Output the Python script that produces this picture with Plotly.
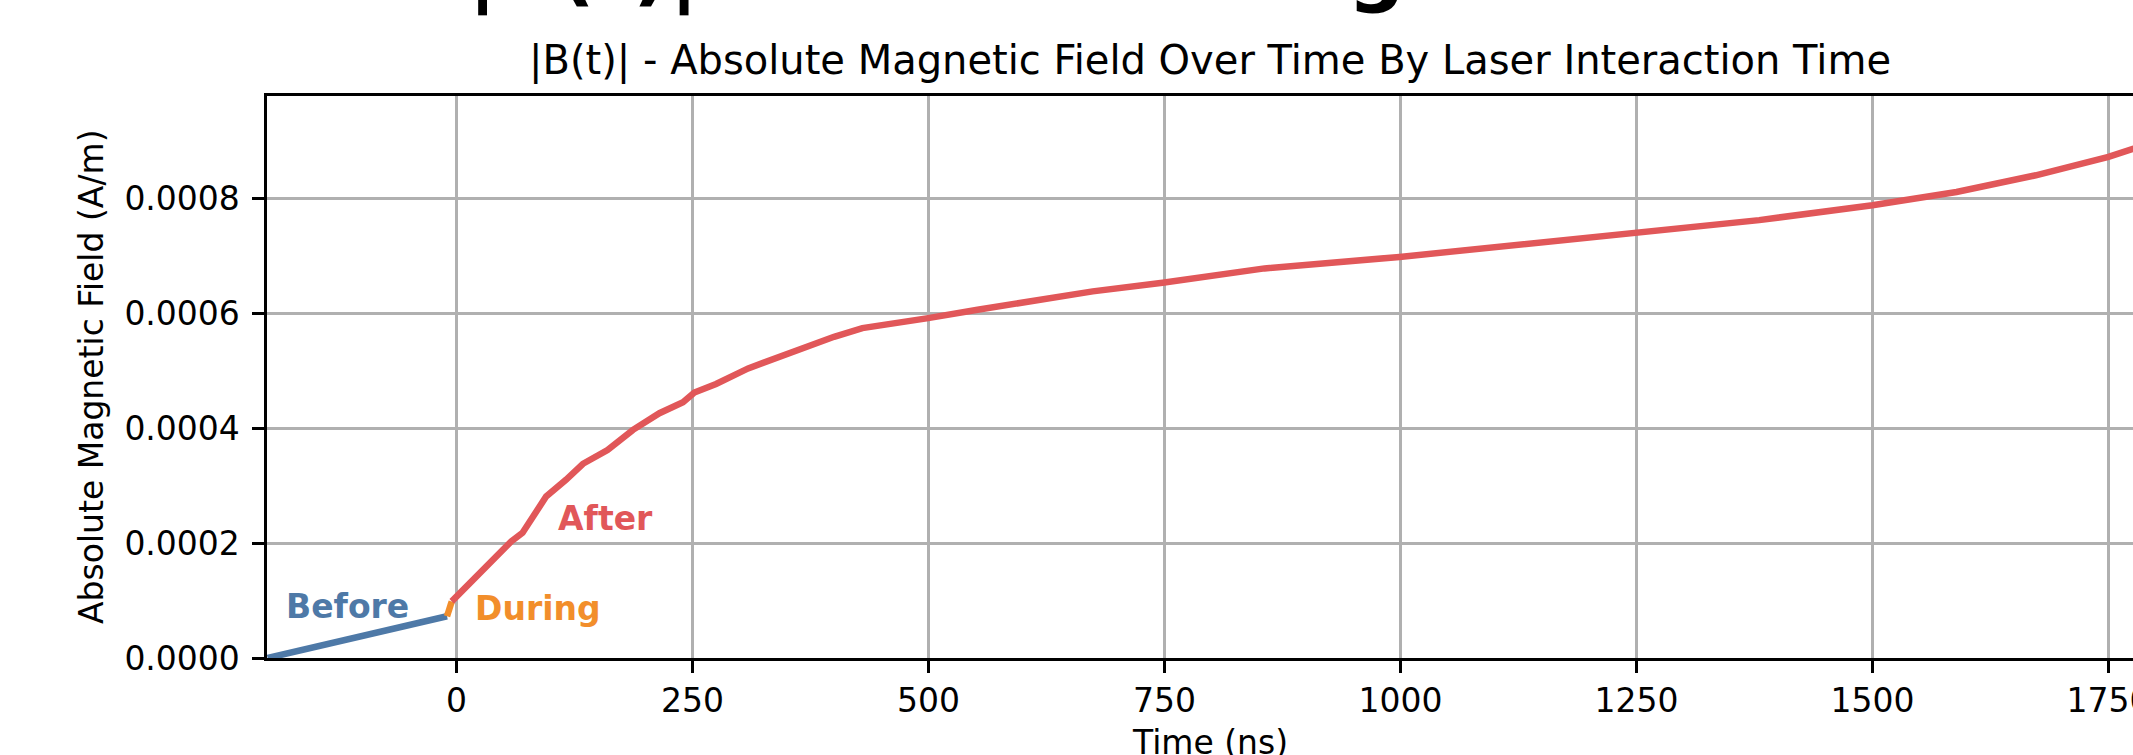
import plotly.graph_objects as go

# ---- data ----
before_t = [-200, -150, -100, -50, -10]
before_b = [0.0, 0.0000195, 0.0000385, 0.0000565, 0.0000727]

during_t = [-10, -7, -5]
during_b = [0.0000727, 0.000085, 0.0000985]

after_t = [-5, 11, 28, 46, 58, 70, 81, 95, 116, 134, 160, 187, 215, 240, 252, 275,
           309, 370, 400, 430, 461, 498, 552, 613, 674, 748, 856, 999, 1128, 1249,
           1317, 1380, 1500, 1589, 1673, 1750, 1776, 1797]
after_b = [0.0000985, 0.000125, 0.000151, 0.000183, 0.000203, 0.000218, 0.000246,
           0.000281, 0.000310, 0.000338, 0.000362, 0.000397, 0.000426, 0.000445,
           0.000462, 0.000477, 0.000504, 0.000542, 0.000559, 0.000574, 0.000583,
           0.000591, 0.000606, 0.000623, 0.000638, 0.000653, 0.000678, 0.000698,
           0.000719, 0.000738, 0.000750, 0.000762, 0.000788, 0.000811, 0.000840,
           0.000872, 0.000886, 0.000898]

x_ticks = [0, 250, 500, 750, 1000, 1250, 1500, 1750]
y_ticks = [0.0, 0.0002, 0.0004, 0.0006, 0.0008]

phase_labels = ["Before", "During", "After"]
phase_colors = ["#4e79a7", "#f28e2b", "#e15759"]
label_pos_t = [-115.5, 86.9, 157.8]
label_pos_b = [0.0000902, 0.0000867, 0.0002431]

main_title = "|B(t)| - Absolute Magnetic Field"
sub_title = "|B(t)| - Absolute Magnetic Field Over Time By Laser Interaction Time"
x_title = "Time (ns)"
y_title = "Absolute Magnetic Field (A/m)"

# ---- layout geometry ----
W, H = 2133, 755
ML, MR, MT, MB = 267, 0, 96, 97
PW = W - ML - MR
PH = H - MT - MB
FONT = "DejaVu Sans"


def px_x(px):
    return (px - ML) / PW


def px_y(py):
    return (H - MB - py) / PH


fig = go.Figure()
series = [(before_t, before_b), (during_t, during_b), (after_t, after_b)]
for (t, b), name, col in zip(series, phase_labels, phase_colors):
    fig.add_trace(go.Scatter(x=t, y=b, mode="lines", name=name,
                             line=dict(color=col, width=6.5), hoverinfo="skip"))

annotations = []
for name, col, tx, ty in zip(phase_labels, phase_colors, label_pos_t, label_pos_b):
    annotations.append(dict(x=tx, y=ty, xref="x", yref="y", text="<b>%s</b>" % name,
                            showarrow=False, xanchor="center", yanchor="middle",
                            font=dict(family=FONT, size=33, color=col)))

# big (cut-off) main title
annotations.append(dict(x=px_x(466), y=px_y(-3 - 0.346 * 80), xref="paper", yref="paper",
                        text="<b>%s</b>" % main_title, showarrow=False,
                        xanchor="left", yanchor="middle",
                        font=dict(family=FONT, size=80, color="black")))
# axes title
annotations.append(dict(x=px_x(1210), y=px_y(74.5 - 0.346 * 40), xref="paper", yref="paper",
                        text=sub_title, showarrow=False, xanchor="center", yanchor="middle",
                        font=dict(family=FONT, size=40, color="black")))
# x axis title
annotations.append(dict(x=px_x(1210), y=px_y(754 - 0.346 * 33), xref="paper", yref="paper",
                        text=x_title, showarrow=False, xanchor="center", yanchor="middle",
                        font=dict(family=FONT, size=33, color="black")))
# y axis title
annotations.append(dict(x=px_x(91), y=px_y(377), xref="paper", yref="paper",
                        text=y_title, showarrow=False, xanchor="center", yanchor="middle",
                        textangle=-90,
                        font=dict(family=FONT, size=33, color="black")))

fig.update_layout(
    width=W, height=H,
    margin=dict(l=ML, r=MR, t=MT, b=MB, autoexpand=False),
    paper_bgcolor="white", plot_bgcolor="white",
    showlegend=False, hovermode=False,
    font=dict(family=FONT, size=33, color="black"),
    annotations=annotations,
)
fig.update_xaxes(range=[-200.7, 1776], tickvals=x_ticks, ticktext=[str(v) for v in x_ticks],
                 showgrid=True, gridcolor="#b0b0b0", gridwidth=2.7,
                 showline=True, linecolor="black", linewidth=2.7, mirror=True,
                 ticks="outside", ticklen=11.7, tickwidth=2.7, tickcolor="black",
                 ticklabeloverflow="allow",
                 zeroline=False, tickfont=dict(family=FONT, size=33, color="black"))
fig.update_yaxes(range=[0, 0.000978], tickvals=y_ticks, tickformat=".4f",
                 showgrid=True, gridcolor="#b0b0b0", gridwidth=2.7,
                 showline=True, linecolor="black", linewidth=2.7, mirror=False,
                 ticks="outside", ticklen=11.7, tickwidth=2.7, tickcolor="black",
                 ticklabelstandoff=6,
                 zeroline=False, tickfont=dict(family=FONT, size=33, color="black"))

fig.write_html("out.html",
               config={"displayModeBar": False},
               post_script="document.body.style.margin='0';"
                           "document.body.style.padding='0';"
                           "document.body.style.overflow='hidden';")
